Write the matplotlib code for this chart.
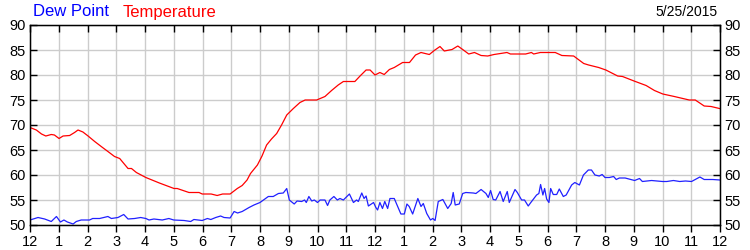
import matplotlib
matplotlib.use("Agg")
import matplotlib.pyplot as plt

temp_hours = [0.0, 0.22, 0.4, 0.55, 0.74, 0.85, 1.01, 1.15, 1.38, 1.55, 1.67, 1.84, 2.02, 2.25, 2.5,
              2.71, 2.94, 3.12, 3.25, 3.41, 3.53, 3.70, 4.03, 4.5, 5.01, 5.12, 5.53, 5.88, 5.99, 6.30,
              6.51, 6.70, 6.96, 7.21, 7.38, 7.55, 7.67, 7.91, 8.07, 8.23, 8.40, 8.58, 8.75, 8.93, 9.16,
              9.39, 9.57, 9.97, 10.26, 10.49, 10.72, 10.90, 11.30, 11.48, 11.69, 11.83, 12.0, 12.17,
              12.32, 12.5, 12.67, 12.96, 13.2, 13.41, 13.6, 13.89, 14.06, 14.26, 14.41, 14.68, 14.88,
              15.05, 15.26, 15.46, 15.69, 15.92, 16.14, 16.59, 16.71, 17.24, 17.44, 17.52, 17.75,
              18.27, 18.5, 18.91, 19.26, 19.43, 19.78, 20.03, 20.44, 20.61, 21.01, 21.43, 21.72,
              22.01, 22.41, 22.93, 23.14, 23.45, 23.69, 23.98]
temp_values = [69.5, 69.0, 68.2, 67.8, 68.1, 68.0, 67.3, 67.8, 67.9, 68.5, 69.0, 68.6, 67.8, 66.7, 65.6,
               64.7, 63.7, 63.3, 62.4, 61.3, 61.3, 60.5, 59.5, 58.4, 57.3, 57.3, 56.5, 56.5, 56.2, 56.2,
               55.9, 56.2, 56.2, 57.3, 57.9, 59.0, 60.3, 62.0, 63.8, 66.0, 67.2, 68.3, 70.0, 72.0, 73.3,
               74.5, 75.0, 75.0, 75.7, 76.9, 78.0, 78.7, 78.7, 79.8, 81.0, 81.0, 80.0, 80.5,
               80.1, 81.1, 81.5, 82.5, 82.5, 84.0, 84.5, 84.1, 84.9, 85.7, 84.8, 85.1, 85.8,
               85.1, 84.2, 84.5, 83.9, 83.8, 84.1, 84.5, 84.2, 84.2, 84.5, 84.2, 84.5,
               84.5, 83.9, 83.8, 82.3, 82.0, 81.5, 81.0, 79.8, 79.7, 78.8, 77.9, 76.9,
               76.2, 75.7, 75.0, 75.0, 73.8, 73.7, 73.3]

dew_hours = [0.0, 0.28, 0.51, 0.74, 0.92, 1.06, 1.18, 1.30, 1.50, 1.61, 1.78, 2.07, 2.18, 2.42, 2.71,
             2.83, 3.06, 3.26, 3.41, 3.64, 3.85, 4.03, 4.14, 4.31, 4.6, 4.83, 5.0, 5.36, 5.59, 5.70,
             5.99, 6.17, 6.29, 6.46, 6.63, 6.75, 6.96, 7.10, 7.22, 7.38, 7.62, 7.79, 8.0, 8.29, 8.46,
             8.64, 8.81, 8.93, 9.02, 9.19, 9.29, 9.45, 9.55, 9.61, 9.70, 9.80, 9.89, 10.0, 10.09,
             10.26, 10.35, 10.43, 10.57, 10.69, 10.78, 10.90, 11.11, 11.25, 11.36, 11.42, 11.54,
             11.62, 11.69, 11.77, 11.95, 12.03, 12.09, 12.17, 12.26, 12.34, 12.44, 12.52, 12.67,
             12.90, 13.02, 13.11, 13.19, 13.31, 13.49, 13.60, 13.68, 13.80, 13.93, 14.01, 14.09,
             14.20, 14.36, 14.53, 14.65, 14.72, 14.79, 14.93, 15.05, 15.16, 15.42, 15.51, 15.69,
             15.86, 15.94, 16.02, 16.11, 16.20, 16.35, 16.46, 16.6, 16.67, 16.87, 16.95, 17.1,
             17.2, 17.33, 17.42, 17.62, 17.7, 17.76, 17.84, 17.9, 17.97, 18.05, 18.11, 18.2, 18.32,
             18.41, 18.55, 18.65, 18.84, 18.95, 19.11, 19.25, 19.42, 19.53, 19.65, 19.8, 19.9,
             20.0, 20.15, 20.3, 20.39, 20.5, 20.70, 21.03, 21.2, 21.3, 21.45, 21.62, 22.0, 22.15,
             22.38, 22.6, 22.8, 23.01, 23.3, 23.45, 23.75, 24.0]
dew_values = [51.0, 51.5, 51.2, 50.7, 51.7, 50.6, 51.0, 50.6, 50.2, 50.7, 51.0, 51.0, 51.3, 51.3, 51.7,
              51.3, 51.5, 52.1, 51.2, 51.3, 51.5, 51.3, 51.0, 51.2, 51.0, 51.3, 51.0, 50.9, 50.7, 51.1,
              50.9, 51.3, 51.1, 51.5, 51.8, 51.5, 51.4, 52.7, 52.4, 52.7, 53.5, 54.0, 54.5, 55.7, 55.7,
              56.3, 56.4, 57.3, 55.0, 54.2, 54.8, 54.7, 55.0, 54.5, 55.7, 54.8, 55.0, 54.5, 55.0,
              55.0, 53.9, 55.0, 55.7, 55.0, 55.3, 55.0, 56.2, 54.5, 55.0, 54.7, 56.4,
              55.3, 55.8, 53.8, 54.5, 53.5, 53.0, 54.5, 53.3, 54.7, 53.3, 55.3, 55.3,
              52.2, 52.2, 54.2, 53.7, 52.2, 55.3, 53.7, 54.3, 52.3, 51.0, 51.3, 50.9,
              54.7, 55.1, 53.3, 54.3, 56.5, 54.0, 54.2, 56.3, 56.5, 56.4, 56.3, 57.1,
              56.3, 55.5, 56.9, 55.1, 55.0, 56.7, 54.7, 56.7, 54.5, 57.1, 56.5, 55.0,
              55.0, 53.8, 54.5, 56.0, 56.3, 58.1, 56.0, 57.3, 55.2, 54.5, 57.3, 56.1, 56.1,
              57.2, 55.7, 56.0, 58.0, 58.5, 58.0, 60.0, 61.0, 61.0, 60.0, 59.8, 60.1,
              59.5, 59.5, 59.7, 59.1, 59.4, 59.4, 58.9, 59.3, 58.7, 58.8, 58.9, 58.7, 58.7,
              58.9, 58.7, 58.8, 58.7, 59.6, 59.1, 59.1, 59.0]

hour_ticks = list(range(0, 25))
hour_labels = ["12", "1", "2", "3", "4", "5", "6", "7", "8", "9", "10", "11",
               "12", "1", "2", "3", "4", "5", "6", "7", "8", "9", "10", "11", "12"]
y_ticks = [50, 55, 60, 65, 70, 75, 80, 85, 90]

plt.rcParams['font.family'] = ['Liberation Sans', 'DejaVu Sans']

fig = plt.figure(figsize=(7.5, 2.5), dpi=100)
ax = fig.add_axes([30/750, 25/250, 690/750, 200/250])

ax.plot(dew_hours, dew_values, color='#2020FF', lw=0.9)
ax.plot(temp_hours, temp_values, color='#FF0000', lw=0.9)

ax.set_xlim(0, 24)
ax.set_ylim(50, 90)
ax.set_xticks(hour_ticks)
ax.set_xticklabels(hour_labels)
ax.set_yticks(y_ticks)
ax.grid(True, color='#CCCCCC', lw=1.0)
ax.set_axisbelow(True)
for s in ax.spines.values():
    s.set_color('black')
    s.set_linewidth(1.0)

ax.tick_params(axis='x', direction='out', length=5, width=1, pad=2, labelsize=10.5,
               colors='black')
ax.tick_params(axis='y', direction='in', length=5, width=1, left=True, right=True,
               labelleft=True, labelright=True, pad=3, labelsize=10.5)

top = ax.twiny()
top.set_xlim(0, 24)
top.set_xticks(hour_ticks)
top.tick_params(axis='x', direction='in', length=5, width=1, labeltop=False)

fig.text(33/750, 1 - 12/250, "Dew Point", color='#0000FF', fontsize=12, va='center', ha='left')
fig.text(123/750, 1 - 12/250, "Temperature", color='#FF0000', fontsize=12, va='center', ha='left')
fig.text(718/750, 1 - 12/250, "5/25/2015", color='black', fontsize=10, va='center', ha='right')

fig.savefig("out.png", dpi=100)
